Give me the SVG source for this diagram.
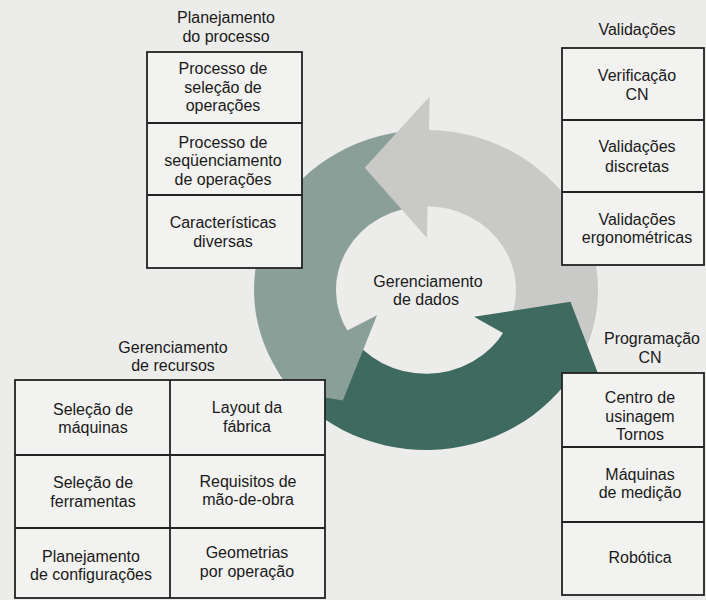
<svg xmlns="http://www.w3.org/2000/svg" width="706" height="600" viewBox="0 0 706 600">
<style>
.t{font-family:"Liberation Sans",Arial,sans-serif;font-size:16px;fill:#1a1a1a;text-anchor:middle}
.box{fill:#f2f2f0;stroke:#222;stroke-width:1.8}
.div{stroke:#222;stroke-width:1.8;fill:none}
.light{fill:#c9c9c7}
.mid{fill:#8b9f99}
.dark{fill:#3e6a5f}
</style>
<rect width="706" height="600" fill="#ececea"/>

<g id="connectors" transform="translate(426,290) scale(1,0.93)">
  <path class="light" d="M150.43 83.39 A172 172 0 0 0 -3.00 -171.97 L-1.57 -89.99 A90 90 0 0 1 78.72 43.63 Z"/>
  <path class="mid" d="M-3.00 -171.97 A172 172 0 0 0 -147.43 88.59 L-77.15 46.35 A90 90 0 0 1 -1.57 -89.99 Z"/>
  <path class="dark" d="M-147.43 88.59 A172 172 0 0 0 150.43 83.39 L78.72 43.63 A90 90 0 0 1 -77.15 46.35 Z"/>
  <path class="light" d="M0.98 -55.99 L3.63 -207.97 L-61.28 -131.41 Z"/>
  <path class="mid" d="M-48.98 27.15 L-150.43 83.39 A172 172 0 0 0 -132.35 109.85 L-83.17 118.78 Z"/>
  <path class="dark" d="M48.00 28.84 L178.29 107.13 L144.45 12.64 Z"/>
</g>

<g id="gerenciamento-dados">
  <text class="t" x="428" y="286.5">Gerenciamento</text>
  <text class="t" x="426" y="305">de dados</text>
</g>

<g id="planejamento-processo">
  <text class="t" x="226" y="23">Planejamento</text>
  <text class="t" x="226" y="41.5">do processo</text>
  <rect class="box" x="147" y="52" width="155" height="216"/>
  <line class="div" x1="147" y1="123" x2="302" y2="123"/>
  <line class="div" x1="147" y1="195" x2="302" y2="195"/>
  <text class="t" x="223" y="74">Processo de</text>
  <text class="t" x="223" y="92.5">seleção de</text>
  <text class="t" x="223" y="111">operações</text>
  <text class="t" x="223" y="147.5">Processo de</text>
  <text class="t" x="223" y="166">seqüenciamento</text>
  <text class="t" x="223" y="184.5">de operações</text>
  <text class="t" x="223" y="228">Características</text>
  <text class="t" x="223" y="246.5">diversas</text>
</g>

<g id="validacoes">
  <text class="t" x="637" y="35">Validações</text>
  <rect class="box" x="562" y="48" width="142" height="217"/>
  <line class="div" x1="562" y1="120" x2="704" y2="120"/>
  <line class="div" x1="562" y1="192" x2="704" y2="192"/>
  <text class="t" x="637" y="81">Verificação</text>
  <text class="t" x="637" y="99.5">CN</text>
  <text class="t" x="637" y="152">Validações</text>
  <text class="t" x="637" y="171.5">discretas</text>
  <text class="t" x="637" y="224.5">Validações</text>
  <text class="t" x="637" y="243">ergonométricas</text>
</g>

<g id="gerenciamento-recursos">
  <text class="t" x="173" y="352.5">Gerenciamento</text>
  <text class="t" x="173" y="371">de recursos</text>
  <rect class="box" x="15" y="380" width="310" height="218"/>
  <line class="div" x1="170" y1="380" x2="170" y2="598"/>
  <line class="div" x1="15" y1="455" x2="325" y2="455"/>
  <line class="div" x1="15" y1="528" x2="325" y2="528"/>
  <text class="t" x="93" y="414.5">Seleção de</text>
  <text class="t" x="93" y="433">máquinas</text>
  <text class="t" x="247" y="413">Layout da</text>
  <text class="t" x="247" y="432">fábrica</text>
  <text class="t" x="93" y="488">Seleção de</text>
  <text class="t" x="93" y="507">ferramentas</text>
  <text class="t" x="248" y="486.5">Requisitos de</text>
  <text class="t" x="248" y="505">mão-de-obra</text>
  <text class="t" x="91" y="561.5">Planejamento</text>
  <text class="t" x="91" y="580">de configurações</text>
  <text class="t" x="247" y="558">Geometrias</text>
  <text class="t" x="247" y="577">por operação</text>
</g>

<g id="programacao-cn">
  <text class="t" x="652" y="344">Programação</text>
  <text class="t" x="650" y="362.5">CN</text>
  <rect class="box" x="562" y="373" width="142" height="222"/>
  <line class="div" x1="562" y1="447" x2="704" y2="447"/>
  <line class="div" x1="562" y1="522" x2="704" y2="522"/>
  <text class="t" x="640" y="403">Centro de</text>
  <text class="t" x="640" y="421.5">usinagem</text>
  <text class="t" x="640" y="440">Tornos</text>
  <text class="t" x="640" y="479.5">Máquinas</text>
  <text class="t" x="640" y="498">de medição</text>
  <text class="t" x="640" y="563">Robótica</text>
</g>
</svg>
